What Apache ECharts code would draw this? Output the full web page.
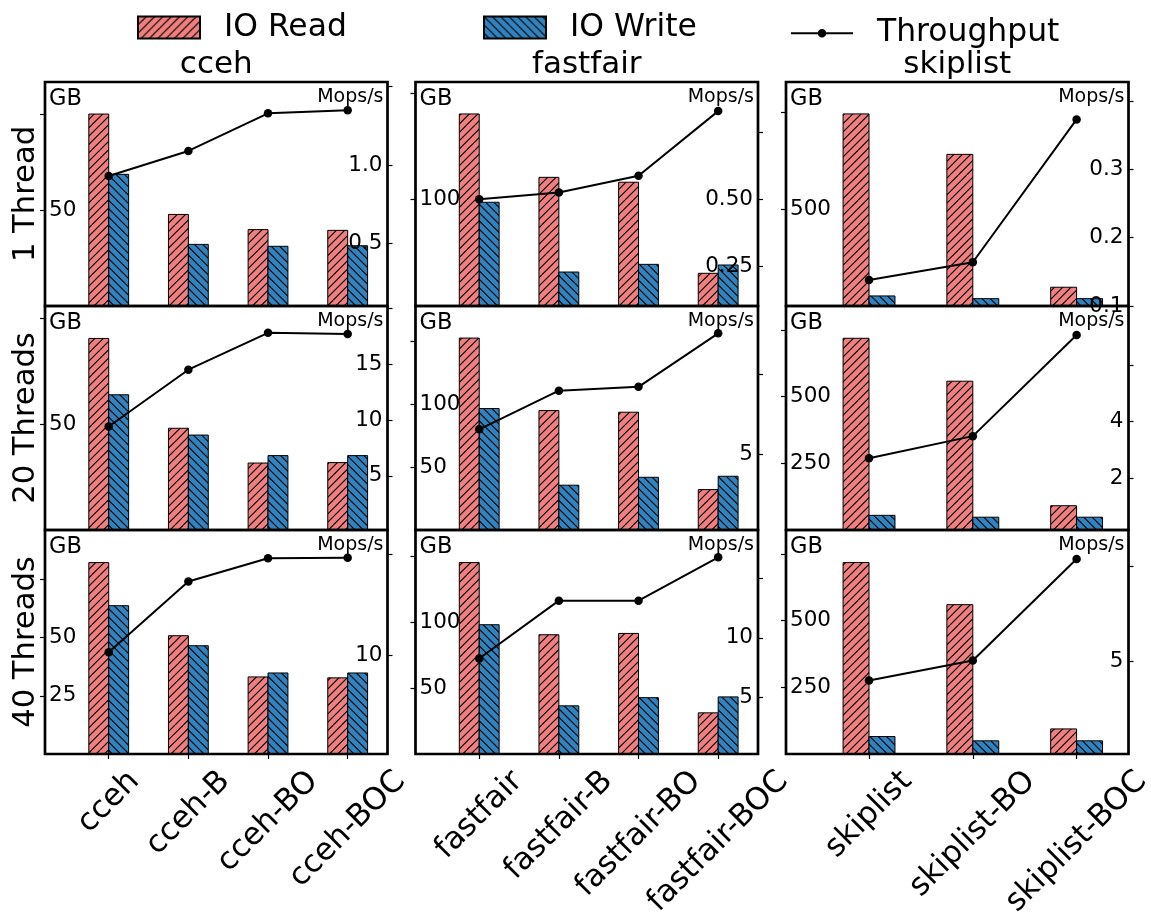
<!DOCTYPE html>
<html>
<head>
<meta charset="utf-8">
<script src="https://cdn.jsdelivr.net/npm/echarts@6/dist/echarts.min.js"></script>
<style>
  html, body { margin: 0; padding: 0; background: #fff; }
  #chart { width: 1151px; height: 913px; }
</style>
</head>
<body>
<div id="chart"></div>
<script>
const FONT = 'DejaVu Sans';

// ---- labels ----
const threadLabels = ['1 Thread', '20 Threads', '40 Threads'];
const indexNames = ['cceh', 'fastfair', 'skiplist'];
const ccehCats = ['cceh', 'cceh-B', 'cceh-BO', 'cceh-BOC'];
const fastfairCats = ['fastfair', 'fastfair-B', 'fastfair-BO', 'fastfair-BOC'];
const skiplistCats = ['skiplist', 'skiplist-BO', 'skiplist-BOC'];

// ---- IO volume (GB) and throughput (Mops/s) ----
const ccehRead1 = [100, 47.7, 39.8, 39.4];
const ccehWrite1 = [68.6, 32.1, 31.1, 31.4];
const ccehTput1 = [0.93, 1.09, 1.33, 1.35];
const fastfairRead1 = [180.3, 120.8, 116.2, 30.7];
const fastfairWrite1 = [97.4, 31.9, 39.1, 38.5];
const fastfairTput1 = [0.50, 0.525, 0.587, 0.827];
const skiplistRead1 = [993, 784, 97];
const skiplistWrite1 = [52, 38, 38];
const skiplistTput1 = [0.138, 0.164, 0.373];

const ccehRead20 = [90.4, 48.0, 31.6, 31.8];
const ccehWrite20 = [63.8, 44.8, 35.1, 35.1];
const ccehTput20 = [9.42, 14.5, 17.8, 17.7];
const fastfairRead20 = [152.5, 94.9, 93.6, 32.1];
const fastfairWrite20 = [96.5, 35.6, 41.9, 42.7];
const fastfairTput20 = [6.54, 8.96, 9.2, 12.54];
const skiplistRead20 = [719, 558, 91];
const skiplistWrite20 = [55, 48, 48];
const skiplistTput20 = [2.71, 3.49, 7.06];

const ccehRead40 = [82.2, 50.8, 33.1, 32.7];
const ccehWrite40 = [63.7, 46.5, 34.8, 34.8];
const ccehTput40 = [10.3, 17.3, 19.6, 19.65];
const fastfairRead40 = [145.1, 90.4, 91.4, 31.2];
const fastfairWrite40 = [98, 36.5, 42.7, 43.3];
const fastfairTput40 = [8.26, 13.14, 13.14, 16.8];
const skiplistRead40 = [718, 560, 94];
const skiplistWrite40 = [65.5, 49.4, 49.4];
const skiplistTput40 = [3.98, 5.04, 10.4];

// ---- axis ranges and ticks, panels in row-major order ----
const gbMax = [116.7, 210.3, 1158, 105.7, 178, 840, 96.2, 169.8, 840];
const gbTicks = [[50, 100], [100, 200], [500, 1000], [50, 100], [50, 100, 150], [250, 500, 750], [25, 50, 75], [50, 100, 150], [250, 500, 750]];
const mopsRange = [[0.1, 1.53], [0.104, 0.935], [0.1, 0.4277], [0.16, 20.2], [0.25, 14.25], [0.18, 8.08], [0.25, 22.4], [0.2, 19.1], [0.1, 11.93]];
const mopsTicks = [[0.5, 1, 1.5], [0.25, 0.5, 0.75], [0.1, 0.2, 0.3, 0.4], [5, 10, 15, 20], [5, 10], [2, 4, 6], [10, 20], [5, 10, 15], [5, 10]];
const mopsDigits = [1, 2, 1, 0, 0, 0, 0, 0, 0];

const catsByCol = [ccehCats, fastfairCats, skiplistCats];
const readSets = [ccehRead1, fastfairRead1, skiplistRead1, ccehRead20, fastfairRead20, skiplistRead20, ccehRead40, fastfairRead40, skiplistRead40];
const writeSets = [ccehWrite1, fastfairWrite1, skiplistWrite1, ccehWrite20, fastfairWrite20, skiplistWrite20, ccehWrite40, fastfairWrite40, skiplistWrite40];
const tputSets = [ccehTput1, fastfairTput1, skiplistTput1, ccehTput20, fastfairTput20, skiplistTput20, ccehTput40, fastfairTput40, skiplistTput40];

// ---- layout ----
const colLeft = [45, 415.5, 786];
const panelW = 342.5;
const rowTop = [82, 306, 530];
const panelH = 224;

// hatched fills: pink with '/' lines, blue with '\' lines
function hatchFill(bg, forward) {
  const s = 25;
  const c = document.createElement('canvas');
  c.width = s; c.height = s;
  const g = c.getContext('2d');
  g.fillStyle = bg;
  g.fillRect(0, 0, s, s);
  g.strokeStyle = '#000';
  g.lineWidth = 1.1;
  g.beginPath();
  for (let k = -3; k <= 6; k++) {
    const o = k * s / 3;
    if (forward) { g.moveTo(o, 0); g.lineTo(o - s, s); }
    else { g.moveTo(0, o); g.lineTo(s, o + s); }
  }
  g.stroke();
  return { image: c, repeat: 'repeat' };
}
const readFill = hatchFill('#f08080', true);
const writeFill = hatchFill('#3182bd', false);

function barRenderer(x0, x1, fill) {
  return function (params, api) {
    const k = api.value(0), v = api.value(1);
    const tl = api.coord([k + x0, v]);
    const br = api.coord([k + x1, 0]);
    return {
      type: 'rect',
      shape: { x: tl[0], y: tl[1], width: br[0] - tl[0], height: br[1] - tl[1] },
      style: { fill: fill, stroke: '#000', lineWidth: 1 }
    };
  };
}

// every tick gets a mark; the topmost one carries no text
function hideLast(ticks, digits) {
  const last = ticks[ticks.length - 1];
  return v => (Math.abs(v - last) < 1e-9 ? '' : (digits == null ? String(v) : v.toFixed(digits)));
}

const tickStyle = { color: '#000', width: 1.2 };
const grids = [], xAxes = [], yAxes = [], series = [];
for (let r = 0; r < 3; r++) {
  for (let c = 0; c < 3; c++) {
    const i = r * 3 + c;
    const cats = catsByCol[c];
    grids.push({
      left: colLeft[c], top: rowTop[r], width: panelW, height: panelH,
      show: true, borderColor: '#000', borderWidth: 2.7, backgroundColor: 'transparent', z: 6
    });
    xAxes.push({
      type: 'value', gridIndex: i, min: -0.8, max: cats.length - 0.5,
      show: r === 2,
      axisLine: { show: false, onZero: false },
      splitLine: { show: false },
      axisLabel: { show: false },
      axisTick: { show: r === 2, customValues: cats.map((_, k) => k), length: 5, lineStyle: tickStyle }
    });
    const left = {
      type: 'value', gridIndex: i, position: 'left', min: 0, max: gbMax[i], z: 10,
      axisLine: { show: false, onZero: false },
      splitLine: { show: false },
      axisTick: { show: true, inside: false, length: 5, customValues: gbTicks[i], lineStyle: tickStyle },
      axisLabel: { inside: true, margin: 4, customValues: gbTicks[i], fontSize: 21.5, fontFamily: FONT, color: '#000',
        formatter: hideLast(gbTicks[i], null) }
    };
    if (c === 0) {
      Object.assign(left, {
        name: threadLabels[r], nameLocation: 'middle', nameRotate: 90, nameGap: 3,
        nameTextStyle: { fontSize: 30.6, fontFamily: FONT, color: '#000' }
      });
    }
    yAxes.push(left);
    yAxes.push({
      type: 'value', gridIndex: i, position: 'right', min: mopsRange[i][0], max: mopsRange[i][1], z: 10,
      axisLine: { show: false, onZero: false },
      splitLine: { show: false },
      axisTick: { show: true, inside: false, length: 5, customValues: mopsTicks[i], lineStyle: tickStyle },
      axisLabel: { inside: true, margin: 5, customValues: mopsTicks[i], fontSize: 21.5, fontFamily: FONT, color: '#000',
        formatter: hideLast(mopsTicks[i], mopsDigits[i]) }
    });
    series.push({
      type: 'custom', name: 'IO Read', xAxisIndex: i, yAxisIndex: 2 * i,
      data: readSets[i].map((v, k) => [k, v]),
      renderItem: barRenderer(-0.25, 0, readFill),
      itemStyle: { color: readFill, borderColor: '#000', borderWidth: 1 }, z: 2
    });
    series.push({
      type: 'custom', name: 'IO Write', xAxisIndex: i, yAxisIndex: 2 * i,
      data: writeSets[i].map((v, k) => [k, v]),
      renderItem: barRenderer(0, 0.25, writeFill),
      itemStyle: { color: writeFill, borderColor: '#000', borderWidth: 1 }, z: 2
    });
    series.push({
      type: 'line', name: 'Throughput', xAxisIndex: i, yAxisIndex: 2 * i + 1,
      data: tputSets[i].map((v, k) => [k, v]),
      symbol: 'circle', symbolSize: 8.5,
      lineStyle: { color: '#000', width: 2 },
      itemStyle: { color: '#000' }, z: 4
    });
  }
}

const legendBase = {
  top: 12, itemWidth: 62, itemHeight: 22, padding: 0, selectedMode: false,
  textStyle: { fontSize: 31.4, fontFamily: FONT, color: '#000', padding: [0, 0, 0, 19] }
};

const chart = echarts.init(document.getElementById('chart'), null, { renderer: 'canvas' });
chart.setOption({
  animation: false,
  backgroundColor: '#fff',
  legend: [
    Object.assign({}, legendBase, { left: 137, data: [{ name: 'IO Read', icon: 'rect' }] }),
    Object.assign({}, legendBase, { left: 483, data: [{ name: 'IO Write', icon: 'rect' }] }),
    Object.assign({}, legendBase, { left: 790, top: 17.7, itemHeight: 10.6, data: ['Throughput'] })
  ],
  grid: grids,
  xAxis: xAxes,
  yAxis: yAxes,
  series: series
});

// texts: column titles, unit tags, rotated category labels
const graphics = [];
const textStyle = (text, size, align, vAlign) => ({ text, fontSize: size, fontFamily: FONT, fill: '#000', align, verticalAlign: vAlign });
for (let c = 0; c < 3; c++) {
  graphics.push({ type: 'text', x: colLeft[c] + panelW / 2, y: 65, style: textStyle(indexNames[c], 31, 'center', 'middle') });
}
for (let r = 0; r < 3; r++) {
  for (let c = 0; c < 3; c++) {
    graphics.push({ type: 'text', x: colLeft[c] + 4, y: rowTop[r] + 17, style: textStyle('GB', 22.5, 'left', 'middle') });
    graphics.push({ type: 'text', x: colLeft[c] + panelW - 4, y: rowTop[r] + 15, style: textStyle('Mops/s', 19, 'right', 'middle') });
  }
}
const measure = document.createElement('canvas').getContext('2d');
const labelSize = 31;
measure.font = labelSize + 'px "' + FONT + '"';
const axisBottom = rowTop[2] + panelH;
for (let c = 0; c < 3; c++) {
  catsByCol[c].forEach((name, k) => {
    const px = chart.convertToPixel({ xAxisIndex: 6 + c }, k);
    const L = measure.measureText(name).width;
    const cy = axisBottom + 9.7 + 0.3536 * (L + 1.164 * labelSize);
    graphics.push({ type: 'text', x: px, y: cy, rotation: Math.PI / 4, style: textStyle(name, labelSize, 'center', 'middle') });
  });
}
chart.setOption({ graphic: graphics });
</script>
</body>
</html>
